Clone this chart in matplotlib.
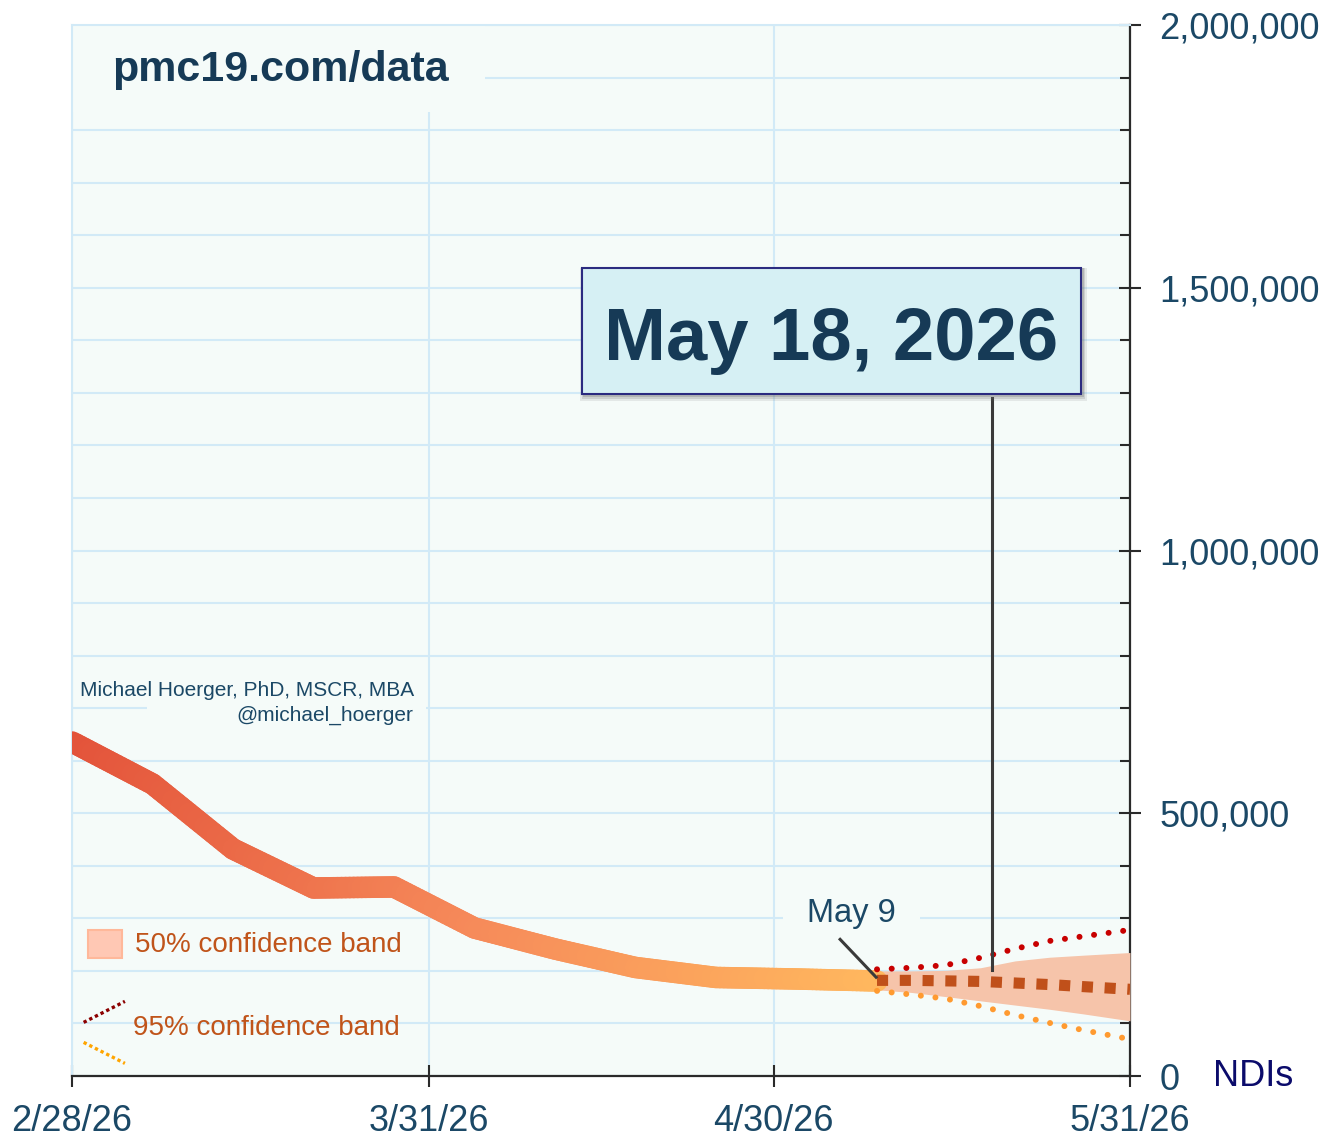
import numpy as np
import pandas as pd
import matplotlib
matplotlib.use('Agg')
import matplotlib.pyplot as plt
import matplotlib.dates as mdates
from matplotlib.collections import LineCollection
from matplotlib.colors import LinearSegmentedColormap
from matplotlib.patches import Rectangle
from matplotlib.lines import Line2D
from matplotlib.ticker import MultipleLocator, FuncFormatter

plt.rcParams['font.family'] = ['Liberation Sans', 'DejaVu Sans']

# observed weekly estimates
obs_dates = pd.to_datetime(['2026-02-28', '2026-03-07', '2026-03-14', '2026-03-21',
                            '2026-03-28', '2026-04-04', '2026-04-11', '2026-04-18',
                            '2026-04-25', '2026-05-02', '2026-05-09'])
obs_ndis = [635600, 555700, 432000, 357800, 359700, 281600, 241700, 206500,
            187500, 184600, 180800]

# forecast
fc_dates = pd.to_datetime(['2026-05-09', '2026-05-12', '2026-05-15', '2026-05-18',
                           '2026-05-21', '2026-05-24', '2026-05-27', '2026-05-31'])
fc_median = [182000, 182000, 181000, 180000, 177000, 174000, 170000, 165000]
fc_upper95 = [203000, 206000, 211000, 225000, 242000, 257000, 266000, 278000]
fc_lower95 = [162000, 155000, 147000, 133000, 116000, 101000, 87000, 70000]
fc_upper50 = [200000, 200000, 201000, 206000, 219000, 226000, 230000, 235000]
fc_lower50 = [164000, 159000, 151000, 143000, 135000, 127000, 118000, 105000]

xtick_dates = pd.to_datetime(['2026-02-28', '2026-03-31', '2026-04-30', '2026-05-31'])
xtick_labels = ['2/28/26', '3/31/26', '4/30/26', '5/31/26']

peak_date = pd.Timestamp('2026-05-19')
peak_label = 'May 18, 2026'

txt_color = '#1b4866'
bg = '#f5fbf9'
grid_c = '#d2eaf7'

fig = plt.figure(figsize=(13.41, 11.37), dpi=100)
ax = fig.add_axes([72 / 1341, 61 / 1137, 1058 / 1341, 1051 / 1137])
ax.set_facecolor(bg)

# gradient main line
xn = mdates.date2num(obs_dates)
yv = np.array(obs_ndis, dtype=float)
segs = []
cpos = []
for i in range(len(xn) - 1):
    tt = np.linspace(0, 1, 21)
    xs = xn[i] + (xn[i + 1] - xn[i]) * tt
    ys = yv[i] + (yv[i + 1] - yv[i]) * tt
    for j in range(len(tt) - 1):
        segs.append([(xs[j], ys[j]), (xs[j + 1], ys[j + 1])])
        cpos.append((xs[j] - xn[0]) / (xn[-1] - xn[0]))
cmap = LinearSegmentedColormap.from_list('obs', ['#e3533a', '#f68a5a', '#ffb75e'])
lc = LineCollection(segs, colors=cmap(np.array(cpos)), linewidths=15.5,
                    capstyle='round', joinstyle='round', zorder=4)

# forecast band and lines
ax.fill_between(fc_dates, fc_lower50, fc_upper50, color='#f6c4aa', lw=0, zorder=3)
ax.add_collection(lc)
ax.plot(fc_dates, fc_median, color='#c0501a', lw=8, ls=(0, (1, 1.05)),
        dash_capstyle='butt', zorder=5)
ax.plot(fc_dates, fc_upper95, color='#c80000', lw=4.3, ls=(0, (0.01, 2.45)),
        dash_capstyle='round', zorder=5)
ax.plot(fc_dates, fc_lower95, color='#ff9a30', lw=4.3, ls=(0, (0.01, 2.45)),
        dash_capstyle='round', zorder=5)

ax.set_xlim(pd.Timestamp('2026-02-28'), pd.Timestamp('2026-05-31'))
ax.set_ylim(0, 2000000)

# axes styling
ax.yaxis.tick_right()
ax.yaxis.set_major_locator(MultipleLocator(500000))
ax.yaxis.set_minor_locator(MultipleLocator(100000))
ax.yaxis.set_major_formatter(FuncFormatter(lambda v, p: f'{int(v):,}'))
ax.set_xticks(xtick_dates)
ax.set_xticklabels(xtick_labels)
ax.set_axisbelow(True)
ax.grid(axis='y', which='both', color=grid_c, lw=1.5)
ax.grid(axis='x', which='major', color=grid_c, lw=1.5)
for s in ['left', 'top']:
    ax.spines[s].set_color(grid_c)
    ax.spines[s].set_linewidth(1.5)
for s in ['right', 'bottom']:
    ax.spines[s].set_color('#2a2a2a')
    ax.spines[s].set_linewidth(1.6)
ax.tick_params(axis='y', which='major', direction='inout', length=16, width=1.5,
               color='#2a2a2a', labelsize=26, labelcolor=txt_color, pad=13)
ax.tick_params(axis='y', which='minor', direction='in', length=7, width=1.5,
               color='#2a2a2a')
ax.tick_params(axis='x', which='major', direction='inout', length=16, width=1.5,
               color='#2a2a2a', labelsize=26, labelcolor=txt_color, pad=12)

ax.text(1.0784, 0, 'NDIs', transform=ax.transAxes, va='center', ha='left',
        fontsize=26, color='#0b0b6b')

# header with a plain patch behind it
ax.add_patch(Rectangle((0, (1076 - 112) / 1051), (485 - 72) / 1058, 112 / 1051,
                       transform=ax.transAxes, fc=bg, ec='none', zorder=1))
ax.text(0.038, 0.957, 'pmc19.com/data', transform=ax.transAxes, ha='left', va='center',
        fontsize=31, fontweight='bold', color='#163a56', zorder=6)

# author
ax.add_patch(Rectangle((0.071, 0.329), 0.264, 0.026, transform=ax.transAxes,
                       fc=bg, ec='none', zorder=1))
ax.text(0.323, 0.367, 'Michael Hoerger, PhD, MSCR, MBA', transform=ax.transAxes,
        ha='right', va='center', fontsize=15, color=txt_color, zorder=6)
ax.text(0.323, 0.343, '@michael_hoerger', transform=ax.transAxes,
        ha='right', va='center', fontsize=15, color=txt_color, zorder=6)

# legend
ax.add_patch(Rectangle((0.015, 0.112), 0.032, 0.027, transform=ax.transAxes,
                       fc='#ffc8b4', ec='#ffb89a', lw=1.5, zorder=6))
ax.text(0.06, 0.125, '50% confidence band', transform=ax.transAxes, ha='left',
        va='center', fontsize=20, color='#c0541a', zorder=6)
ax.add_line(Line2D([0.011, 0.050], [0.051, 0.071], transform=ax.transAxes,
                   color='#8b0000', lw=2.4, ls=(0, (1, 0.9)), zorder=6))
ax.add_line(Line2D([0.011, 0.050], [0.032, 0.012], transform=ax.transAxes,
                   color='#ffa500', lw=2.4, ls=(0, (1, 0.9)), zorder=6))
ax.text(0.058, 0.046, '95% confidence band', transform=ax.transAxes, ha='left',
        va='center', fontsize=20, color='#c0541a', zorder=6)

# May 9 pointer
ax.add_patch(Rectangle(((783 - 72) / 1058, 0.127), (920 - 783) / 1058, 0.06,
                       transform=ax.transAxes, fc=bg, ec='none', zorder=1))
ax.text(0.737, 0.155, 'May 9', transform=ax.transAxes, ha='center', va='center',
        fontsize=23.5, color=txt_color, zorder=6)
ax.add_line(Line2D([0.726, 0.760], [0.130, 0.094], transform=ax.transAxes,
                   color='#3a3a3a', lw=2.2, zorder=7))

# peak callout
ax.plot([peak_date, peak_date], [202000, 1290000], color='#3a3a3a', lw=2.2, zorder=6)
x0, x1 = (582 - 72) / 1058, (1081 - 72) / 1058
y0, y1 = (1076 - 394) / 1051, (1076 - 268) / 1051
for k, a in [(0.007, 0.12), (0.0045, 0.18), (0.0025, 0.25)]:
    ax.add_patch(Rectangle((x0 - k / 2 + 0.002, y0 - k), x1 - x0 + k, y1 - y0 + k,
                           transform=ax.transAxes, fc='#666666', ec='none',
                           alpha=a, zorder=7))
ax.add_patch(Rectangle((x0, y0), x1 - x0, y1 - y0, transform=ax.transAxes,
                       fc='#d6f0f4', ec='#2b2b80', lw=1.5, zorder=8))
ax.text((x0 + x1) / 2, (1076 - 360) / 1051, peak_label, transform=ax.transAxes,
        ha='center', va='baseline', fontsize=53.5, fontweight='bold', color='#163a56',
        zorder=9)

fig.savefig('out.png', dpi=100)
